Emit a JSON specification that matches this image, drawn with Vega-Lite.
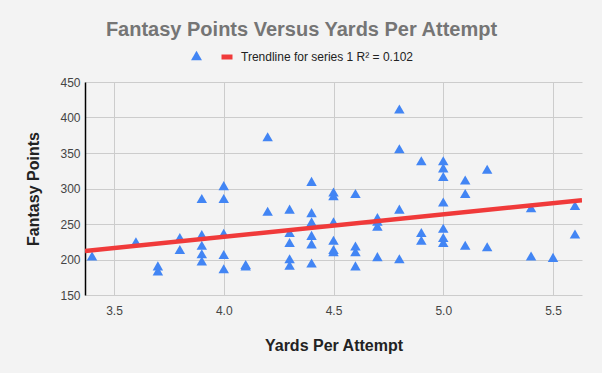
{
  "$schema": "https://vega.github.io/schema/vega-lite/v6.json",
  "autosize": "none",
  "width": 497,
  "height": 213,
  "padding": {"left": 85, "top": 82, "right": 20, "bottom": 78},
  "background": "#f3f3f3",
  "title": {
    "text": "Fantasy Points Versus Yards Per Attempt",
    "anchor": "middle",
    "frame": "group",
    "dx": -32,
    "offset": 9,
    "font": "Liberation Sans",
    "fontSize": 20,
    "fontWeight": "bold",
    "color": "#757575"
  },
  "config": {
    "view": {"stroke": null},
    "axis": {
      "labelFont": "Liberation Sans",
      "labelFontSize": 12,
      "labelColor": "#444444",
      "titleFont": "Liberation Sans",
      "titleFontSize": 16,
      "titleFontWeight": "bold",
      "titleColor": "#222222",
      "gridColor": "#cccccc",
      "gridWidth": 1,
      "ticks": false
    },
    "legend": {
      "labelFont": "Liberation Sans",
      "labelFontSize": 12,
      "labelColor": "#222222",
      "labelLimit": 400,
      "title": null
    }
  },
  "datasets": {
    "points": [
      {"ypa": 3.4, "pts": 205},
      {"ypa": 3.6, "pts": 225},
      {"ypa": 3.7, "pts": 191},
      {"ypa": 3.7, "pts": 184},
      {"ypa": 3.8, "pts": 231},
      {"ypa": 3.8, "pts": 214},
      {"ypa": 3.9, "pts": 286},
      {"ypa": 3.9, "pts": 235},
      {"ypa": 3.9, "pts": 220},
      {"ypa": 3.9, "pts": 208},
      {"ypa": 3.9, "pts": 198},
      {"ypa": 4.0, "pts": 304},
      {"ypa": 4.0, "pts": 286},
      {"ypa": 4.0, "pts": 237},
      {"ypa": 4.0, "pts": 207},
      {"ypa": 4.0, "pts": 187},
      {"ypa": 4.1, "pts": 193},
      {"ypa": 4.1, "pts": 191},
      {"ypa": 4.2, "pts": 373},
      {"ypa": 4.2, "pts": 268},
      {"ypa": 4.3, "pts": 271},
      {"ypa": 4.3, "pts": 238},
      {"ypa": 4.3, "pts": 224},
      {"ypa": 4.3, "pts": 201},
      {"ypa": 4.3, "pts": 192},
      {"ypa": 4.4, "pts": 310},
      {"ypa": 4.4, "pts": 266},
      {"ypa": 4.4, "pts": 253},
      {"ypa": 4.4, "pts": 234},
      {"ypa": 4.4, "pts": 222},
      {"ypa": 4.4, "pts": 195},
      {"ypa": 4.5, "pts": 295},
      {"ypa": 4.5, "pts": 290},
      {"ypa": 4.5, "pts": 253},
      {"ypa": 4.5, "pts": 227},
      {"ypa": 4.5, "pts": 214},
      {"ypa": 4.5, "pts": 211},
      {"ypa": 4.6, "pts": 293},
      {"ypa": 4.6, "pts": 219},
      {"ypa": 4.6, "pts": 211},
      {"ypa": 4.6, "pts": 191},
      {"ypa": 4.7, "pts": 259},
      {"ypa": 4.7, "pts": 254},
      {"ypa": 4.7, "pts": 247},
      {"ypa": 4.7, "pts": 204},
      {"ypa": 4.8, "pts": 412},
      {"ypa": 4.8, "pts": 356},
      {"ypa": 4.8, "pts": 271},
      {"ypa": 4.8, "pts": 201},
      {"ypa": 4.9, "pts": 339},
      {"ypa": 4.9, "pts": 238},
      {"ypa": 4.9, "pts": 227},
      {"ypa": 5.0, "pts": 339},
      {"ypa": 5.0, "pts": 329},
      {"ypa": 5.0, "pts": 317},
      {"ypa": 5.0, "pts": 281},
      {"ypa": 5.0, "pts": 244},
      {"ypa": 5.0, "pts": 231},
      {"ypa": 5.0, "pts": 224},
      {"ypa": 5.1, "pts": 312},
      {"ypa": 5.1, "pts": 293},
      {"ypa": 5.1, "pts": 220},
      {"ypa": 5.2, "pts": 327},
      {"ypa": 5.2, "pts": 218},
      {"ypa": 5.4, "pts": 273},
      {"ypa": 5.4, "pts": 205},
      {"ypa": 5.5, "pts": 203},
      {"ypa": 5.6, "pts": 276},
      {"ypa": 5.6, "pts": 236}
    ],
    "trend": [
      {"ypa": 3.368, "pts": 212},
      {"ypa": 5.632, "pts": 283.6}
    ]
  },
  "encoding": {
    "x": {
      "field": "ypa",
      "type": "quantitative",
      "scale": {"domain": [3.368, 5.632], "nice": false, "zero": false},
      "axis": {
        "title": "Yards Per Attempt",
        "values": [3.5, 4.0, 4.5, 5.0, 5.5],
        "format": ".1f",
        "domain": false,
        "labelPadding": 10,
        "titleY": 50,
        "titleBaseline": "middle"
      }
    },
    "y": {
      "field": "pts",
      "type": "quantitative",
      "scale": {"domain": [150, 450], "nice": false, "zero": false},
      "axis": {
        "title": "Fantasy Points",
        "values": [150, 200, 250, 300, 350, 400, 450],
        "domain": true,
        "domainColor": "#000000",
        "domainWidth": 1.5,
        "labelPadding": 5,
        "titleX": -52,
        "titleBaseline": "middle"
      }
    }
  },
  "layer": [
    {
      "data": {"name": "points"},
      "mark": {"type": "point", "shape": "triangle-up", "filled": true, "size": 110, "opacity": 1},
      "encoding": {
        "fill": {
          "datum": " ",
          "scale": {"domain": [" "], "range": ["#4285f4"]},
          "legend": {
            "orient": "none",
            "legendX": 105,
            "legendY": -33,
            "direction": "horizontal",
            "symbolType": "triangle-up",
            "symbolSize": 120,
            "symbolOpacity": 1,
            "labelOffset": 2
          }
        }
      }
    },
    {
      "data": {"name": "trend"},
      "mark": {"type": "line", "strokeWidth": 4.5, "clip": true},
      "encoding": {
        "stroke": {
          "datum": "Trendline for series 1 R² = 0.102",
          "scale": {"domain": ["Trendline for series 1 R² = 0.102"], "range": ["#f03a3a"]},
          "legend": {
            "orient": "none",
            "legendX": 134,
            "legendY": -33,
            "direction": "horizontal",
            "symbolType": "stroke",
            "symbolSize": 121,
            "symbolStrokeWidth": 5,
            "symbolOpacity": 1,
            "labelOffset": 6
          }
        }
      }
    }
  ]
}
